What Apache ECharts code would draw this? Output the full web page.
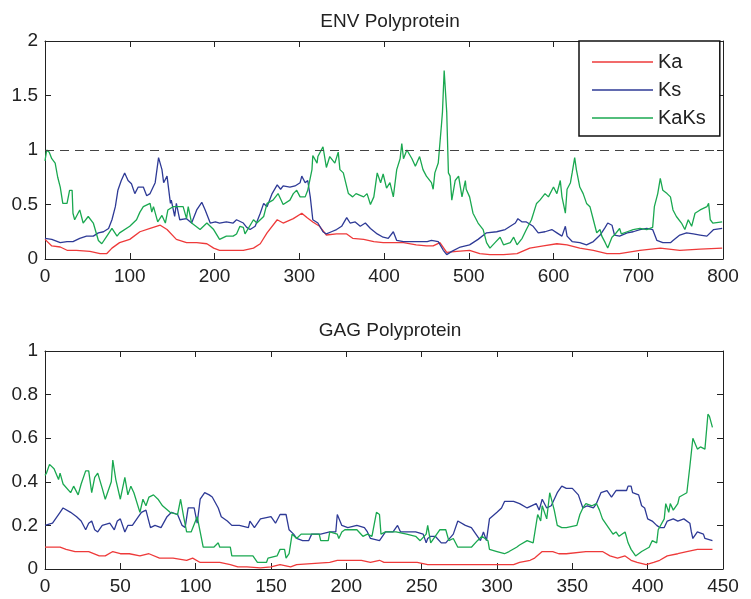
<!DOCTYPE html>
<html>
<head>
<meta charset="utf-8">
<script src="https://cdn.jsdelivr.net/npm/echarts@6/dist/echarts.min.js"></script>
<style>
  html, body { margin: 0; padding: 0; background: #fff; }
  #chart { width: 751px; height: 599px; }
</style>
</head>
<body>
<div id="chart"></div>
<script>
// ENV polyprotein (sliding window, x = codon position)
const envKa = [[0,0.18],[2,0.18],[8,0.12],[18,0.11],[26,0.08],[37,0.08],[53,0.07],[65,0.05],[73,0.05],[79,0.10],[88,0.15],[100,0.18],[112,0.25],[124,0.28],[136,0.31],[144,0.27],[155,0.18],[167,0.15],[179,0.15],[191,0.14],[199,0.10],[206,0.08],[218,0.08],[234,0.08],[246,0.10],[254,0.14],[262,0.24],[274,0.36],[281,0.33],[293,0.37],[303,0.42],[309,0.38],[316,0.34],[324,0.30],[332,0.22],[344,0.23],[356,0.23],[363,0.19],[376,0.18],[388,0.16],[399,0.15],[411,0.15],[423,0.15],[438,0.13],[450,0.12],[458,0.12],[466,0.15],[474,0.06],[486,0.07],[501,0.08],[513,0.05],[525,0.04],[541,0.04],[557,0.05],[572,0.10],[588,0.12],[604,0.14],[616,0.13],[631,0.10],[647,0.08],[663,0.05],[678,0.05],[702,0.08],[726,0.10],[749,0.08],[773,0.09],[799,0.10]];

const envKs = [[0,0.19],[2,0.19],[8,0.18],[18,0.15],[26,0.16],[33,0.16],[41,0.19],[49,0.21],[57,0.21],[63,0.24],[69,0.25],[75,0.28],[79,0.36],[83,0.48],[86,0.63],[90,0.72],[94,0.79],[98,0.72],[102,0.69],[106,0.60],[110,0.66],[116,0.66],[120,0.58],[124,0.60],[130,0.70],[134,0.93],[138,0.82],[140,0.70],[144,0.76],[148,0.51],[149,0.54],[153,0.39],[155,0.51],[159,0.36],[167,0.37],[173,0.33],[179,0.45],[185,0.52],[189,0.45],[195,0.33],[201,0.34],[206,0.33],[214,0.34],[222,0.33],[226,0.36],[234,0.33],[238,0.29],[242,0.27],[248,0.30],[254,0.42],[258,0.51],[262,0.48],[268,0.60],[274,0.68],[278,0.64],[281,0.67],[289,0.66],[295,0.67],[301,0.70],[303,0.76],[307,0.70],[310,0.72],[313,0.57],[316,0.36],[322,0.33],[328,0.25],[332,0.23],[338,0.25],[344,0.27],[350,0.30],[356,0.38],[360,0.33],[366,0.34],[372,0.30],[378,0.33],[384,0.28],[392,0.23],[399,0.20],[405,0.19],[411,0.25],[415,0.17],[423,0.16],[438,0.16],[451,0.16],[456,0.17],[464,0.16],[470,0.08],[474,0.04],[480,0.07],[490,0.11],[501,0.13],[511,0.18],[521,0.24],[533,0.25],[543,0.27],[549,0.30],[555,0.33],[558,0.37],[563,0.34],[568,0.34],[576,0.30],[582,0.24],[590,0.25],[598,0.27],[604,0.24],[610,0.21],[614,0.30],[616,0.21],[622,0.16],[631,0.15],[639,0.13],[647,0.16],[655,0.22],[661,0.29],[664,0.33],[669,0.31],[672,0.22],[678,0.21],[687,0.24],[694,0.25],[702,0.27],[710,0.28],[717,0.27],[722,0.17],[729,0.15],[738,0.15],[741,0.17],[749,0.22],[757,0.24],[765,0.23],[773,0.22],[781,0.21],[789,0.27],[799,0.28]];

const envKaKs = [[0,0.90],[2,1.00],[5,0.98],[8,0.92],[12,0.88],[15,0.75],[18,0.66],[21,0.51],[26,0.51],[29,0.63],[32,0.63],[33,0.42],[35,0.36],[41,0.45],[45,0.33],[51,0.39],[57,0.33],[63,0.17],[67,0.14],[73,0.21],[79,0.28],[85,0.21],[88,0.24],[100,0.30],[108,0.36],[112,0.43],[116,0.48],[124,0.51],[126,0.43],[128,0.48],[133,0.34],[138,0.40],[142,0.33],[145,0.45],[151,0.48],[163,0.48],[167,0.37],[169,0.48],[173,0.33],[183,0.27],[191,0.33],[199,0.27],[206,0.18],[214,0.21],[222,0.21],[226,0.23],[230,0.30],[234,0.29],[236,0.23],[246,0.36],[250,0.33],[258,0.39],[262,0.51],[269,0.54],[275,0.60],[281,0.50],[289,0.54],[293,0.60],[297,0.63],[301,0.57],[307,0.57],[310,0.63],[315,0.82],[316,0.95],[321,0.88],[322,0.94],[328,1.03],[332,0.84],[336,0.94],[342,0.88],[346,0.98],[348,0.82],[352,0.79],[358,0.60],[363,0.57],[367,0.60],[376,0.57],[380,0.60],[384,0.50],[388,0.57],[392,0.79],[396,0.70],[399,0.78],[403,0.65],[407,0.70],[411,0.57],[415,0.82],[419,0.92],[421,1.06],[423,0.92],[427,1.00],[433,0.92],[437,0.85],[442,0.94],[446,0.82],[450,0.76],[456,0.70],[458,0.64],[460,0.79],[464,0.88],[468,1.25],[469,1.35],[471,1.73],[473,1.73],[474,1.35],[476,0.79],[478,0.76],[480,0.54],[484,0.72],[488,0.76],[492,0.57],[496,0.72],[497,0.64],[501,0.57],[505,0.42],[511,0.33],[517,0.27],[521,0.15],[525,0.10],[531,0.15],[537,0.20],[541,0.13],[549,0.15],[553,0.20],[557,0.13],[563,0.19],[568,0.27],[574,0.36],[580,0.51],[584,0.54],[590,0.60],[594,0.57],[600,0.66],[604,0.60],[608,0.72],[610,0.57],[614,0.42],[616,0.64],[620,0.70],[622,0.79],[625,0.93],[627,0.82],[631,0.66],[635,0.60],[639,0.51],[643,0.48],[647,0.36],[651,0.24],[655,0.27],[657,0.21],[661,0.15],[664,0.10],[669,0.20],[673,0.23],[678,0.28],[680,0.23],[687,0.25],[694,0.27],[702,0.28],[710,0.27],[717,0.29],[719,0.48],[723,0.60],[726,0.74],[729,0.63],[734,0.60],[738,0.57],[741,0.45],[745,0.39],[751,0.33],[755,0.27],[759,0.36],[763,0.30],[767,0.42],[773,0.45],[781,0.48],[783,0.51],[785,0.36],[788,0.33],[799,0.34]];

// GAG polyprotein
const gagKa = [[0,0.10],[5,0.10],[10,0.10],[14,0.09],[20,0.08],[29,0.08],[36,0.06],[40,0.06],[45,0.08],[50,0.07],[56,0.07],[63,0.06],[69,0.07],[76,0.05],[85,0.05],[94,0.04],[98,0.05],[103,0.03],[116,0.03],[123,0.02],[128,0.01],[134,0.01],[143,0.005],[150,0.01],[156,0.02],[163,0.01],[167,0.02],[189,0.03],[194,0.04],[201,0.04],[210,0.04],[216,0.03],[222,0.04],[225,0.03],[234,0.03],[247,0.03],[254,0.02],[271,0.02],[293,0.02],[311,0.02],[315,0.03],[322,0.04],[325,0.05],[330,0.08],[337,0.08],[341,0.07],[346,0.07],[359,0.08],[370,0.08],[375,0.06],[380,0.05],[385,0.06],[389,0.04],[393,0.03],[399,0.02],[404,0.03],[408,0.04],[413,0.06],[420,0.07],[426,0.08],[433,0.09],[439,0.09],[443,0.09]];

const gagKs = [[0,0.20],[1,0.20],[5,0.21],[10,0.26],[12,0.28],[17,0.26],[21,0.24],[24,0.22],[27,0.18],[29,0.21],[31,0.22],[33,0.18],[35,0.17],[38,0.20],[43,0.21],[46,0.18],[48,0.22],[50,0.23],[53,0.17],[55,0.20],[58,0.20],[62,0.24],[64,0.26],[67,0.27],[70,0.19],[73,0.20],[77,0.19],[81,0.24],[84,0.26],[88,0.25],[91,0.20],[93,0.19],[95,0.28],[99,0.28],[101,0.21],[103,0.32],[106,0.35],[109,0.34],[111,0.33],[115,0.28],[117,0.24],[121,0.22],[124,0.20],[129,0.20],[135,0.19],[136,0.22],[139,0.19],[143,0.23],[150,0.24],[153,0.21],[156,0.25],[160,0.25],[162,0.18],[165,0.16],[167,0.14],[171,0.13],[175,0.13],[177,0.16],[183,0.16],[189,0.17],[193,0.17],[194,0.25],[197,0.20],[201,0.19],[207,0.20],[212,0.19],[214,0.17],[216,0.14],[222,0.13],[226,0.17],[231,0.17],[234,0.20],[236,0.17],[240,0.17],[246,0.17],[251,0.16],[253,0.12],[254,0.14],[256,0.15],[259,0.15],[263,0.12],[266,0.12],[271,0.16],[274,0.22],[279,0.20],[283,0.19],[286,0.16],[289,0.13],[291,0.17],[293,0.13],[295,0.23],[300,0.26],[303,0.28],[305,0.31],[311,0.31],[315,0.30],[320,0.28],[326,0.30],[328,0.27],[330,0.32],[333,0.28],[336,0.29],[338,0.32],[340,0.35],[343,0.38],[346,0.37],[350,0.37],[354,0.34],[357,0.28],[360,0.29],[364,0.28],[366,0.30],[369,0.35],[373,0.36],[376,0.33],[379,0.36],[383,0.36],[386,0.36],[387,0.38],[389,0.38],[390,0.35],[394,0.34],[396,0.29],[398,0.28],[400,0.23],[403,0.22],[406,0.20],[408,0.19],[411,0.19],[413,0.22],[417,0.23],[420,0.22],[424,0.23],[428,0.21],[429,0.17],[430,0.14],[433,0.17],[437,0.16],[438,0.14],[443,0.13]];

const gagKaKs = [[0,0.43],[1,0.44],[3,0.48],[6,0.46],[9,0.41],[10,0.44],[12,0.39],[17,0.35],[19,0.38],[22,0.34],[24,0.39],[27,0.45],[29,0.45],[31,0.35],[33,0.42],[35,0.44],[38,0.37],[40,0.32],[44,0.40],[45,0.50],[47,0.41],[50,0.32],[53,0.42],[55,0.34],[57,0.38],[59,0.35],[63,0.26],[65,0.32],[67,0.29],[69,0.33],[72,0.34],[75,0.32],[78,0.29],[83,0.26],[88,0.25],[90,0.32],[92,0.24],[94,0.17],[97,0.17],[101,0.24],[103,0.17],[105,0.10],[112,0.10],[115,0.12],[116,0.10],[123,0.10],[124,0.06],[129,0.06],[138,0.06],[141,0.03],[147,0.03],[148,0.05],[154,0.06],[156,0.09],[159,0.09],[160,0.05],[162,0.07],[164,0.16],[167,0.14],[170,0.16],[176,0.16],[182,0.16],[183,0.13],[188,0.13],[189,0.17],[194,0.16],[195,0.14],[197,0.17],[199,0.18],[207,0.18],[211,0.15],[214,0.16],[217,0.15],[220,0.26],[222,0.25],[223,0.16],[226,0.17],[233,0.17],[240,0.16],[246,0.15],[249,0.13],[253,0.16],[254,0.20],[256,0.12],[259,0.15],[262,0.18],[266,0.18],[268,0.13],[271,0.14],[274,0.10],[283,0.10],[287,0.13],[290,0.15],[294,0.13],[295,0.09],[300,0.08],[305,0.07],[308,0.08],[313,0.10],[315,0.11],[320,0.13],[324,0.12],[327,0.25],[329,0.22],[330,0.29],[333,0.23],[335,0.35],[338,0.27],[340,0.20],[343,0.19],[346,0.19],[353,0.20],[355,0.25],[357,0.28],[359,0.30],[363,0.29],[366,0.30],[368,0.27],[370,0.23],[374,0.19],[377,0.16],[379,0.17],[381,0.15],[385,0.17],[387,0.12],[389,0.09],[392,0.06],[396,0.08],[401,0.10],[403,0.13],[406,0.12],[407,0.18],[411,0.23],[412,0.30],[414,0.26],[415,0.30],[417,0.27],[420,0.30],[421,0.33],[426,0.35],[428,0.47],[430,0.60],[433,0.55],[435,0.56],[438,0.55],[440,0.71],[441,0.70],[443,0.65]];

const titles = ['ENV Polyprotein', 'GAG Polyprotein'];
const legendNames = ['Ka', 'Ks', 'KaKs'];
const colors = ['#ee3a3a', '#2e3a96', '#1aa850'];

const FONT = '"Liberation Sans", Arial, sans-serif';
const chart = echarts.init(document.getElementById('chart'));

function makeAxes(dim, gridIndex, min, max, interval) {
  const base = {
    type: 'value', gridIndex: gridIndex, min: min, max: max, interval: interval,
    splitLine: { show: false },
    axisLine: { show: true, onZero: false, lineStyle: { color: '#222', width: 1 } },
    axisTick: { show: true, inside: true, length: 6, lineStyle: { color: '#222' } }
  };
  const main = Object.assign({}, base, {
    position: dim === 'x' ? 'bottom' : 'left',
    axisLabel: { show: true, color: '#222', fontSize: 19, fontFamily: FONT, margin: dim === 'x' ? 8 : 7 }
  });
  const other = Object.assign({}, base, {
    position: dim === 'x' ? 'top' : 'right',
    axisLabel: { show: false }
  });
  return [main, other];
}

function lineSeries(name, data, color, axisIdx) {
  return {
    name: name, type: 'line', data: data,
    xAxisIndex: axisIdx, yAxisIndex: axisIdx,
    symbol: 'none', smooth: false,
    lineStyle: { color: color, width: 1.3 },
    itemStyle: { color: color }
  };
}

const topKaKs = lineSeries('KaKs', envKaKs, colors[2], 0);
topKaKs.markLine = {
  silent: true, symbol: ['none', 'none'], label: { show: false },
  lineStyle: { color: '#444', type: [9, 6], width: 1.1 },
  data: [{ yAxis: 1 }]
};

const option = {
  animation: false,
  backgroundColor: '#fff',
  title: [
    { text: titles[0], left: 385, top: 7, textAlign: 'center',
      textStyle: { fontSize: 19, fontWeight: 'normal', color: '#222', fontFamily: FONT } },
    { text: titles[1], left: 385, top: 316, textAlign: 'center',
      textStyle: { fontSize: 19, fontWeight: 'normal', color: '#222', fontFamily: FONT } }
  ],
  legend: {
    data: legendNames,
    orient: 'vertical',
    left: 579, top: 41,
    padding: [11, 14, 8, 13],
    icon: 'rect',
    itemGap: 8, itemWidth: 61, itemHeight: 1.5,
    backgroundColor: '#fff',
    borderColor: '#111', borderWidth: 1.5, borderRadius: 0,
    textStyle: { fontSize: 20, color: '#222', fontFamily: FONT, lineHeight: 20 }
  },
  grid: [
    { left: 45, top: 41, width: 678, height: 218 },
    { left: 45, top: 351, width: 678, height: 218 }
  ],
  xAxis: [].concat(makeAxes('x', 0, 0, 800, 100), makeAxes('x', 1, 0, 450, 50)),
  yAxis: [].concat(makeAxes('y', 0, 0, 2, 0.5), makeAxes('y', 1, 0, 1, 0.2)),
  series: [
    lineSeries('Ka', envKa, colors[0], 0),
    lineSeries('Ks', envKs, colors[1], 0),
    topKaKs,
    lineSeries('Ka', gagKa, colors[0], 2),
    lineSeries('Ks', gagKs, colors[1], 2),
    lineSeries('KaKs', gagKaKs, colors[2], 2)
  ]
};

chart.setOption(option);
</script>
</body>
</html>
